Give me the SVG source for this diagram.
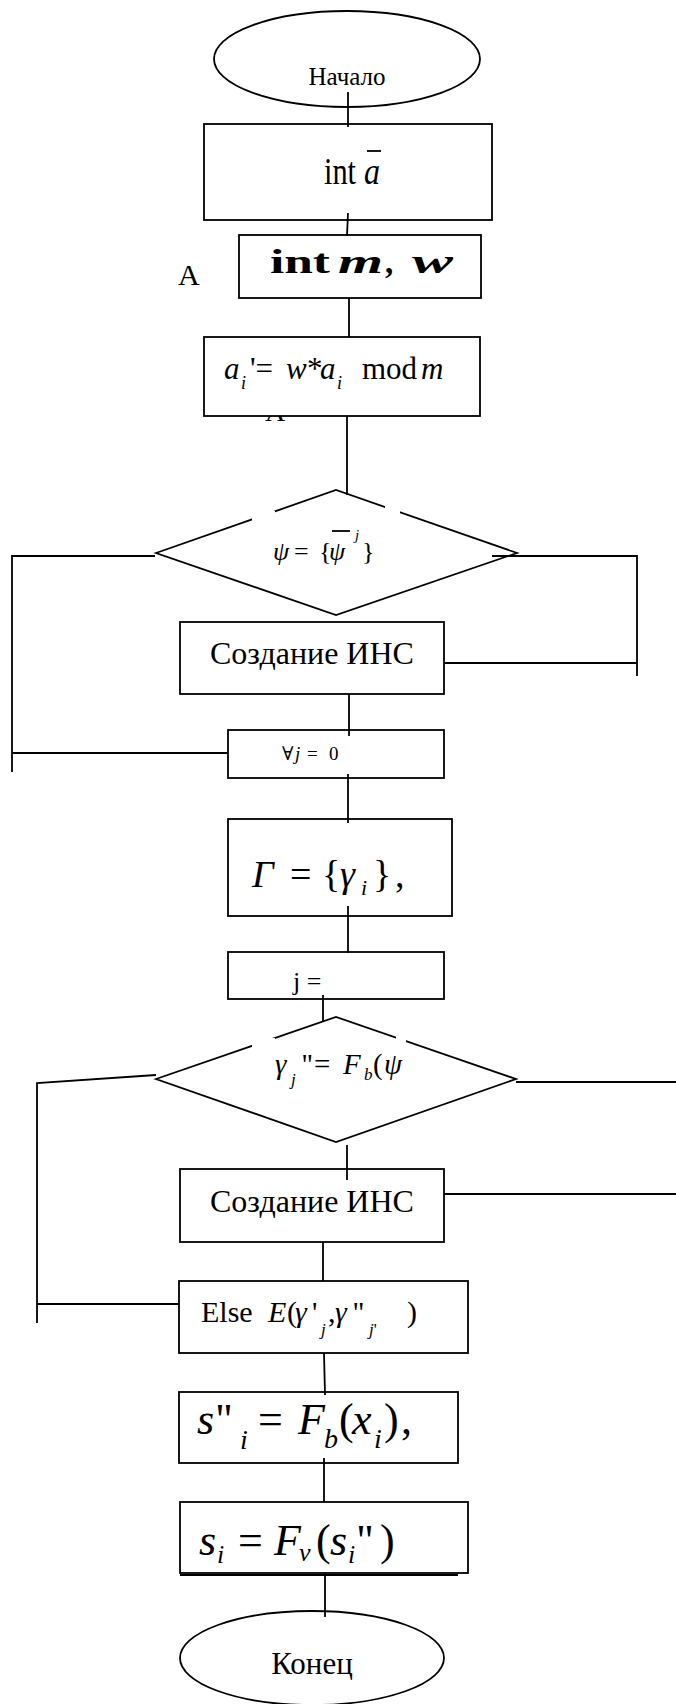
<svg xmlns="http://www.w3.org/2000/svg" width="676" height="1704" viewBox="0 0 676 1704">
<style>
.s{fill:#fff;stroke:#000;stroke-width:1.8}
.c{fill:none;stroke:#000;stroke-width:1.8}
.m{fill:#fff;stroke:none}
text{font-family:"Liberation Serif","DejaVu Serif",serif;fill:#000}
.i{font-style:italic}
.b{font-weight:bold}
</style>
<rect width="676" height="1704" fill="#fff"/>
<g id="labels">
<text x="178" y="285" font-size="30">A</text>
<text x="265" y="421" font-size="28">A</text>
</g>
<g id="n-start">
<ellipse class="s" cx="347" cy="59" rx="133" ry="48"/>
<text x="347" y="85" font-size="25" text-anchor="middle">Начало</text>
</g>
<g id="n-int-a">
<rect class="s" x="204" y="124" width="288" height="96"/>
<text x="324" y="184" font-size="38" textLength="32" lengthAdjust="spacingAndGlyphs">int</text>
<text x="364" y="184" font-size="38" class="i" textLength="16" lengthAdjust="spacingAndGlyphs">a</text>
<line class="c" x1="367" y1="151" x2="381" y2="151" stroke-width="1.5"/>
</g>
<g id="n-int-mw">
<rect class="s" x="239" y="235" width="242" height="63"/>
<text x="270" y="273" font-size="33" class="b" textLength="60" lengthAdjust="spacingAndGlyphs">int</text>
<text x="338" y="273" font-size="33" class="b i" textLength="45" lengthAdjust="spacingAndGlyphs">m</text>
<text x="385" y="273" font-size="33" class="b">,</text>
<text x="412" y="273" font-size="33" class="b i" textLength="41" lengthAdjust="spacingAndGlyphs">w</text>
</g>
<g id="n-ai">
<rect class="s" x="204" y="337" width="276" height="79"/>
<text y="379" font-size="31"><tspan x="224" class="i">a</tspan><tspan x="241" y="389" font-size="18" class="i">i</tspan><tspan x="250" y="379">'=</tspan><tspan x="286" class="i">w</tspan><tspan x="307">*</tspan><tspan x="320" class="i">a</tspan><tspan x="337" y="389" font-size="18" class="i">i</tspan><tspan x="362" y="379">mod</tspan><tspan x="421" class="i">m</tspan></text>
</g>
<g id="n-cond1">
<polygon class="s" points="156,553 336,490 517,553 336,615"/>
<rect class="m" x="252" y="511" width="23" height="10"/>
<rect class="m" x="385" y="506" width="15" height="9"/>
<text y="560" font-size="26"><tspan x="273" class="i">ψ</tspan><tspan x="294">=</tspan><tspan x="319">{</tspan><tspan x="329" class="i">ψ</tspan><tspan x="355" y="540" font-size="15" class="i">j</tspan><tspan x="362" y="560">}</tspan></text>
<line class="c" x1="332" y1="531" x2="350" y2="531" stroke-width="1.5"/>
</g>
<g id="n-ins1">
<rect class="s" x="180" y="622" width="264" height="72"/>
<text x="210" y="664" font-size="32">Создание ИНС</text>
</g>
<g id="n-forall">
<rect class="s" x="228" y="730" width="216" height="48"/>
<text y="760" font-size="19"><tspan x="282">∀</tspan><tspan x="295" class="i">j</tspan><tspan x="307">=</tspan><tspan x="329">0</tspan></text>
</g>
<g id="n-gamma">
<rect class="s" x="228" y="819" width="224" height="97"/>
<text y="887" font-size="38"><tspan x="252" class="i">Γ</tspan><tspan x="290">=</tspan><tspan x="322">{</tspan><tspan x="340" class="i">γ</tspan><tspan x="361" y="895" font-size="22" class="i">i</tspan><tspan x="373" y="887">}</tspan><tspan x="395">,</tspan></text>
</g>
<g id="n-j">
<rect class="s" x="228" y="952" width="216" height="47"/>
<text x="293" y="990" font-size="26">j =</text>
</g>
<g id="n-cond2">
<polygon class="s" points="156,1079 336,1017 516,1079 336,1142"/>
<rect class="m" x="252" y="1038" width="23" height="11"/>
<rect class="m" x="396" y="1035" width="10" height="8"/>
<text y="1074" font-size="29"><tspan x="275" class="i">γ</tspan><tspan x="291" y="1085" font-size="17" class="i">j</tspan><tspan x="302" y="1074">''</tspan><tspan x="314">=</tspan><tspan x="343" class="i">F</tspan><tspan x="364" y="1080" font-size="17" class="i">b</tspan><tspan x="373" y="1074">(</tspan><tspan x="384" class="i">ψ</tspan></text>
</g>
<g id="n-ins2">
<rect class="s" x="180" y="1169" width="264" height="73"/>
<text x="210" y="1212" font-size="32">Создание ИНС</text>
</g>
<g id="n-else">
<rect class="s" x="179" y="1281" width="289" height="72"/>
<text y="1322" font-size="30"><tspan x="201">Else</tspan><tspan x="268" class="i">E</tspan><tspan x="287">(</tspan><tspan x="295" class="i">γ</tspan><tspan x="312">'</tspan><tspan x="321" y="1335" font-size="17" class="i">j</tspan><tspan x="328" y="1322">,</tspan><tspan x="335" class="i">γ</tspan><tspan x="353">''</tspan><tspan x="369" y="1335" font-size="17"><tspan class="i">j</tspan>'</tspan><tspan x="407" y="1322">)</tspan></text>
</g>
<g id="n-s2">
<rect class="s" x="179" y="1392" width="279" height="71"/>
<text y="1434" font-size="44"><tspan x="197" class="i">s</tspan><tspan x="216">''</tspan><tspan x="240" y="1449" font-size="28" class="i">i</tspan><tspan x="258" y="1434">=</tspan><tspan x="298" class="i">F</tspan><tspan x="324" y="1448" font-size="28" class="i">b</tspan><tspan x="339" y="1434">(</tspan><tspan x="352" class="i">x</tspan><tspan x="374" y="1448" font-size="28" class="i">i</tspan><tspan x="384" y="1434">)</tspan><tspan x="401">,</tspan></text>
</g>
<g id="n-s1">
<rect class="s" x="180" y="1502" width="288" height="71"/>
<line class="c" x1="180" y1="1575" x2="458" y2="1575"/>
<text y="1555" font-size="44"><tspan x="199" class="i">s</tspan><tspan x="217" y="1563" font-size="26" class="i">i</tspan><tspan x="238" y="1555">=</tspan><tspan x="274" class="i">F</tspan><tspan x="299" y="1561" font-size="26" class="i">ν</tspan><tspan x="316" y="1555">(</tspan><tspan x="330" class="i">s</tspan><tspan x="348" y="1563" font-size="26" class="i">i</tspan><tspan x="357" y="1555">''</tspan><tspan x="380">)</tspan></text>
</g>
<g id="n-end">
<ellipse class="s" cx="312" cy="1658" rx="132" ry="47"/>
<text x="312" y="1674" font-size="31" text-anchor="middle">Конец</text>
</g>
<g id="connectors">
<line class="c" x1="348" y1="92" x2="348" y2="127"/>
<line class="c" x1="348" y1="213" x2="347" y2="236"/>
<line class="c" x1="349" y1="298" x2="349" y2="337"/>
<line class="c" x1="347" y1="416" x2="347" y2="495"/>
<polyline class="c" points="155,556 12,556 12,772"/>
<line class="c" x1="12" y1="753" x2="228" y2="753"/>
<polyline class="c" points="492,556 637,556 637,676"/>
<line class="c" x1="444" y1="663" x2="637" y2="663"/>
<line class="c" x1="349" y1="694" x2="349" y2="736"/>
<line class="c" x1="348" y1="774" x2="348" y2="823"/>
<line class="c" x1="348" y1="906" x2="348" y2="953"/>
<line class="c" x1="323" y1="995" x2="323" y2="1021"/>
<polyline class="c" points="156,1075 37,1083 37,1323"/>
<line class="c" x1="37" y1="1304" x2="179" y2="1304"/>
<line class="c" x1="516" y1="1082" x2="676" y2="1082"/>
<line class="c" x1="347" y1="1145" x2="347" y2="1180"/>
<line class="c" x1="444" y1="1194" x2="676" y2="1194"/>
<line class="c" x1="323" y1="1242" x2="323" y2="1281"/>
<line class="c" x1="324" y1="1353" x2="325" y2="1395"/>
<line class="c" x1="324" y1="1458" x2="324" y2="1502"/>
<line class="c" x1="325" y1="1573" x2="325" y2="1617"/>
</g>
</svg>
